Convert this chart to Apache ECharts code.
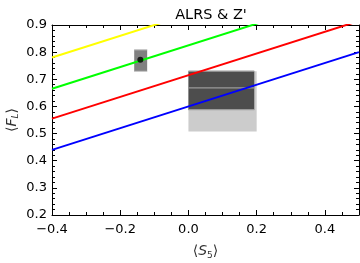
<!DOCTYPE html>
<html><head><meta charset="utf-8">
<script src="https://cdn.jsdelivr.net/npm/echarts@6/dist/echarts.min.js"></script>
<style>html,body{margin:0;padding:0;background:#fff}#c{width:360px;height:263px}</style>
</head><body><div id="c"></div>
<script>
// Data
const xEnds = [-0.4, 0.5];
const yellowY = [0.78, 1.14];
const greenY = [0.665, 1.025];
const redY = [0.555, 0.915];
const blueY = [0.44, 0.80];
// boxes: [x0, x1, y0, y1]
const lightBox = [0.0, 0.20, 0.508, 0.73];
const darkBox = [0.0, 0.193, 0.588, 0.73];
const darkMid = [0.668];
const smallBox = [-0.159, -0.121, 0.729, 0.809];
const point = [-0.141, 0.772];
const xTicks = [-0.4, -0.2, 0.0, 0.2, 0.4];
const yTicks = [0.2, 0.3, 0.4, 0.5, 0.6, 0.7, 0.8, 0.9];

const chart = echarts.init(document.getElementById('c'));
const FONT = 'DejaVu Sans';
function lineSeries(ys, color) {
  return { type: 'line', xAxisIndex: 0, yAxisIndex: 0, data: xEnds.map((x, i) => [x, ys[i]]),
    symbol: 'none', lineStyle: { color: color, width: 2 }, clip: true, z: 5, animation: false };
}
function boxSeries(box, fill, edgeColor, mids, z) {
  return {
    type: 'custom', xAxisIndex: 0, yAxisIndex: 0, z: z, animation: false, clip: true,
    data: [box.concat(mids)],
    renderItem: function (params, api) {
      const p0 = api.coord([api.value(0), api.value(3)]);
      const p1 = api.coord([api.value(1), api.value(2)]);
      const children = [{ type: 'rect', shape: { x: p0[0], y: p0[1], width: p1[0] - p0[0], height: p1[1] - p0[1] },
        style: { fill: fill } }];
      if (edgeColor) {
        const ys = [api.value(2), api.value(3)];
        for (let k = 4; k < 4 + mids.length; k++) ys.push(api.value(k));
        ys.forEach(v => {
          const a = api.coord([api.value(0), v]);
          const b = api.coord([api.value(1), v]);
          children.push({ type: 'line', shape: { x1: a[0], y1: a[1], x2: b[0], y2: b[1] },
            style: { stroke: edgeColor, lineWidth: 1.2 } });
        });
      }
      return { type: 'group', children: children };
    }
  };
}
const axisCommon = {
  type: 'value', axisLine: { show: true, onZero: false, lineStyle: { color: '#000', width: 1 } },
  splitLine: { show: false }, axisTick: { show: true, inside: true, length: 5, lineStyle: { color: '#000' } },
  minorTick: { show: true, length: 3, lineStyle: { color: '#000' } }
};
const nameRich = { a: { fontFamily: FONT, fontSize: 14, fill: '#333', color: '#333' },
  s: { fontFamily: FONT, fontSize: 14, fontStyle: 'italic', fill: '#333', color: '#333' },
  sub: { fontFamily: FONT, fontSize: 9, fill: '#333', color: '#333', padding: [8, 0, 0, 0] },
  subi: { fontFamily: FONT, fontSize: 9, fontStyle: 'italic', fill: '#333', color: '#333', padding: [8, 0, 0, 0] } };
chart.setOption({
  animation: false,
  title: { text: "ALRS & Z'", left: 206, top: 3, textAlign: 'center',
    textStyle: { fontFamily: FONT, fontSize: 14.5, fontWeight: 'normal', color: '#000' } },
  grid: { left: 52, right: 1, top: 25, bottom: 48, containLabel: false, outerBoundsMode: 'none' },
  graphic: [{
    type: 'text', x: 12, y: 120, rotation: Math.PI / 2, silent: true,
    style: { text: '{a|\u27E8}{s|F}{subi|L}{a|\u27E9}', rich: nameRich, align: 'center', verticalAlign: 'middle',
      fontFamily: FONT, fontSize: 14, fill: '#333' }
  }],
  xAxis: [
    Object.assign({}, axisCommon, { min: -0.4, max: 0.5, interval: 0.2, position: 'bottom',
      minorTick: Object.assign({}, axisCommon.minorTick, { splitNumber: 4 }),
      axisLabel: { fontFamily: FONT, fontSize: 13, color: '#000', margin: 8,
        formatter: v => xTicks.some(t => Math.abs(t - v) < 1e-9) ? (v < 0 ? '\u2212' + Math.abs(v).toFixed(1) : v.toFixed(1)) : '' },
      name: '{a|\u27E8}{s|S}{sub|5}{a|\u27E9}', nameLocation: 'middle', nameGap: 28, nameMoveOverlap: false,
      nameTextStyle: { rich: nameRich } }),
    Object.assign({}, axisCommon, { min: -0.4, max: 0.5, interval: 0.2, position: 'top',
      minorTick: Object.assign({}, axisCommon.minorTick, { splitNumber: 4 }), axisLabel: { show: false } })
  ],
  yAxis: [
    Object.assign({}, axisCommon, { min: 0.2, max: 0.9, interval: 0.1, position: 'left',
      minorTick: Object.assign({}, axisCommon.minorTick, { splitNumber: 5 }),
      axisLabel: { fontFamily: FONT, fontSize: 13, color: '#000', margin: 5, formatter: v => v.toFixed(1) } }),
    Object.assign({}, axisCommon, { min: 0.2, max: 0.9, interval: 0.1, position: 'right',
      minorTick: Object.assign({}, axisCommon.minorTick, { splitNumber: 5 }), axisLabel: { show: false } })
  ],
  series: [
    boxSeries(lightBox, '#cccccc', null, [], 1),
    boxSeries(darkBox, '#4d4d4d', '#9a9a9a', darkMid, 2),
    boxSeries(smallBox, '#808080', '#c8c8c8', [], 2),
    lineSeries(yellowY, '#ffff00'),
    lineSeries(greenY, '#00ff00'),
    lineSeries(redY, '#ff0000'),
    lineSeries(blueY, '#0000ff'),
    { type: 'scatter', data: [point], symbol: 'circle', symbolSize: [6, 6], itemStyle: { color: '#000' }, z: 6, animation: false }
  ]
});
</script></body></html>
